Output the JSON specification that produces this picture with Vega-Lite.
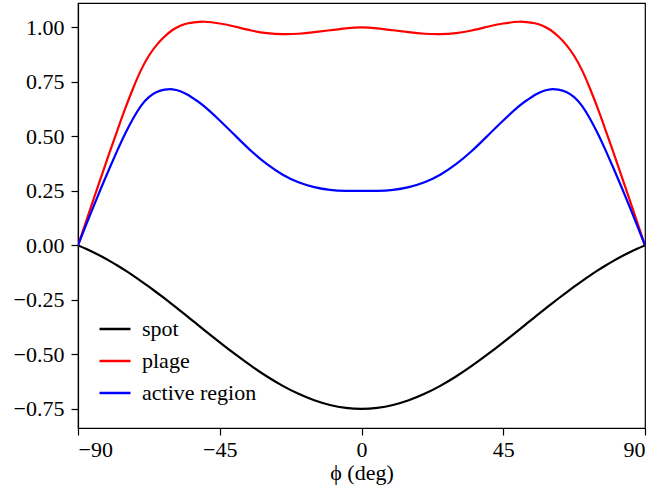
{
  "$schema": "https://vega.github.io/schema/vega-lite/v6.json",
  "width": 567,
  "height": 425,
  "autosize": {"type": "none"},
  "padding": {"left": 78, "top": 3, "right": 13, "bottom": 71},
  "background": "white",
  "config": {
    "view": {"stroke": "black", "strokeWidth": 1.2},
    "font": "Liberation Serif",
    "axis": {
      "grid": false,
      "domainColor": "black",
      "domainWidth": 1.2,
      "tickColor": "black",
      "tickWidth": 1.2,
      "tickSize": 7,
      "labelFont": "Liberation Serif",
      "labelFontSize": 22,
      "labelColor": "black",
      "labelPadding": 4,
      "titleFont": "Liberation Serif",
      "titleFontSize": 22,
      "titleFontWeight": "normal",
      "titleColor": "black"
    }
  },
  "data": {
    "values": [
      {"phi": -90, "value": 0, "series": "spot"},
      {"phi": -87.5, "value": -0.0155, "series": "spot"},
      {"phi": -85, "value": -0.0326, "series": "spot"},
      {"phi": -82.5, "value": -0.0511, "series": "spot"},
      {"phi": -80, "value": -0.071, "series": "spot"},
      {"phi": -77.5, "value": -0.0924, "series": "spot"},
      {"phi": -75, "value": -0.115, "series": "spot"},
      {"phi": -72.5, "value": -0.1388, "series": "spot"},
      {"phi": -70, "value": -0.1637, "series": "spot"},
      {"phi": -67.5, "value": -0.1896, "series": "spot"},
      {"phi": -65, "value": -0.2163, "series": "spot"},
      {"phi": -62.5, "value": -0.2438, "series": "spot"},
      {"phi": -60, "value": -0.2719, "series": "spot"},
      {"phi": -57.5, "value": -0.3004, "series": "spot"},
      {"phi": -55, "value": -0.3293, "series": "spot"},
      {"phi": -52.5, "value": -0.3583, "series": "spot"},
      {"phi": -50, "value": -0.3874, "series": "spot"},
      {"phi": -45, "value": -0.4449, "series": "spot"},
      {"phi": -40, "value": -0.5006, "series": "spot"},
      {"phi": -35, "value": -0.5533, "series": "spot"},
      {"phi": -30, "value": -0.6017, "series": "spot"},
      {"phi": -25, "value": -0.6447, "series": "spot"},
      {"phi": -20, "value": -0.6814, "series": "spot"},
      {"phi": -15, "value": -0.7108, "series": "spot"},
      {"phi": -10, "value": -0.7324, "series": "spot"},
      {"phi": -5, "value": -0.7456, "series": "spot"},
      {"phi": 0, "value": -0.75, "series": "spot"},
      {"phi": 5, "value": -0.7456, "series": "spot"},
      {"phi": 10, "value": -0.7324, "series": "spot"},
      {"phi": 15, "value": -0.7108, "series": "spot"},
      {"phi": 20, "value": -0.6814, "series": "spot"},
      {"phi": 25, "value": -0.6447, "series": "spot"},
      {"phi": 30, "value": -0.6017, "series": "spot"},
      {"phi": 35, "value": -0.5533, "series": "spot"},
      {"phi": 40, "value": -0.5006, "series": "spot"},
      {"phi": 45, "value": -0.4449, "series": "spot"},
      {"phi": 50, "value": -0.3874, "series": "spot"},
      {"phi": 52.5, "value": -0.3583, "series": "spot"},
      {"phi": 55, "value": -0.3293, "series": "spot"},
      {"phi": 57.5, "value": -0.3004, "series": "spot"},
      {"phi": 60, "value": -0.2719, "series": "spot"},
      {"phi": 62.5, "value": -0.2438, "series": "spot"},
      {"phi": 65, "value": -0.2163, "series": "spot"},
      {"phi": 67.5, "value": -0.1896, "series": "spot"},
      {"phi": 70, "value": -0.1637, "series": "spot"},
      {"phi": 72.5, "value": -0.1388, "series": "spot"},
      {"phi": 75, "value": -0.115, "series": "spot"},
      {"phi": 77.5, "value": -0.0924, "series": "spot"},
      {"phi": 80, "value": -0.071, "series": "spot"},
      {"phi": 82.5, "value": -0.0511, "series": "spot"},
      {"phi": 85, "value": -0.0326, "series": "spot"},
      {"phi": 87.5, "value": -0.0155, "series": "spot"},
      {"phi": 90, "value": 0, "series": "spot"},

      {"phi": -90, "value": 0, "series": "plage"},
      {"phi": -87.5, "value": 0.107, "series": "plage"},
      {"phi": -85, "value": 0.214, "series": "plage"},
      {"phi": -82.5, "value": 0.32, "series": "plage"},
      {"phi": -80, "value": 0.425, "series": "plage"},
      {"phi": -77.5, "value": 0.528, "series": "plage"},
      {"phi": -75, "value": 0.628, "series": "plage"},
      {"phi": -72.5, "value": 0.721, "series": "plage"},
      {"phi": -70, "value": 0.804, "series": "plage"},
      {"phi": -67.5, "value": 0.87, "series": "plage"},
      {"phi": -65, "value": 0.92, "series": "plage"},
      {"phi": -62.5, "value": 0.958, "series": "plage"},
      {"phi": -60, "value": 0.988, "series": "plage"},
      {"phi": -57.5, "value": 1.008, "series": "plage"},
      {"phi": -55, "value": 1.019, "series": "plage"},
      {"phi": -52.5, "value": 1.024, "series": "plage"},
      {"phi": -50, "value": 1.026, "series": "plage"},
      {"phi": -45, "value": 1.018, "series": "plage"},
      {"phi": -40, "value": 1.003, "series": "plage"},
      {"phi": -35, "value": 0.986, "series": "plage"},
      {"phi": -30, "value": 0.974, "series": "plage"},
      {"phi": -25, "value": 0.969, "series": "plage"},
      {"phi": -20, "value": 0.971, "series": "plage"},
      {"phi": -15, "value": 0.978, "series": "plage"},
      {"phi": -10, "value": 0.987, "series": "plage"},
      {"phi": -5, "value": 0.9958, "series": "plage"},
      {"phi": 0, "value": 1.0, "series": "plage"},
      {"phi": 5, "value": 0.9958, "series": "plage"},
      {"phi": 10, "value": 0.987, "series": "plage"},
      {"phi": 15, "value": 0.978, "series": "plage"},
      {"phi": 20, "value": 0.971, "series": "plage"},
      {"phi": 25, "value": 0.969, "series": "plage"},
      {"phi": 30, "value": 0.974, "series": "plage"},
      {"phi": 35, "value": 0.986, "series": "plage"},
      {"phi": 40, "value": 1.003, "series": "plage"},
      {"phi": 45, "value": 1.018, "series": "plage"},
      {"phi": 50, "value": 1.026, "series": "plage"},
      {"phi": 52.5, "value": 1.024, "series": "plage"},
      {"phi": 55, "value": 1.019, "series": "plage"},
      {"phi": 57.5, "value": 1.008, "series": "plage"},
      {"phi": 60, "value": 0.988, "series": "plage"},
      {"phi": 62.5, "value": 0.958, "series": "plage"},
      {"phi": 65, "value": 0.92, "series": "plage"},
      {"phi": 67.5, "value": 0.87, "series": "plage"},
      {"phi": 70, "value": 0.804, "series": "plage"},
      {"phi": 72.5, "value": 0.721, "series": "plage"},
      {"phi": 75, "value": 0.628, "series": "plage"},
      {"phi": 77.5, "value": 0.528, "series": "plage"},
      {"phi": 80, "value": 0.425, "series": "plage"},
      {"phi": 82.5, "value": 0.32, "series": "plage"},
      {"phi": 85, "value": 0.214, "series": "plage"},
      {"phi": 87.5, "value": 0.107, "series": "plage"},
      {"phi": 90, "value": 0, "series": "plage"},

      {"phi": -90, "value": 0, "series": "active region"},
      {"phi": -87.5, "value": 0.0915, "series": "active region"},
      {"phi": -85, "value": 0.1814, "series": "active region"},
      {"phi": -82.5, "value": 0.2689, "series": "active region"},
      {"phi": -80, "value": 0.354, "series": "active region"},
      {"phi": -77.5, "value": 0.4356, "series": "active region"},
      {"phi": -75, "value": 0.513, "series": "active region"},
      {"phi": -72.5, "value": 0.5822, "series": "active region"},
      {"phi": -70, "value": 0.6403, "series": "active region"},
      {"phi": -67.5, "value": 0.6804, "series": "active region"},
      {"phi": -65, "value": 0.7037, "series": "active region"},
      {"phi": -62.5, "value": 0.7142, "series": "active region"},
      {"phi": -60, "value": 0.7161, "series": "active region"},
      {"phi": -57.5, "value": 0.7075, "series": "active region"},
      {"phi": -55, "value": 0.6897, "series": "active region"},
      {"phi": -52.5, "value": 0.6657, "series": "active region"},
      {"phi": -50, "value": 0.6386, "series": "active region"},
      {"phi": -45, "value": 0.5731, "series": "active region"},
      {"phi": -40, "value": 0.5024, "series": "active region"},
      {"phi": -35, "value": 0.4327, "series": "active region"},
      {"phi": -30, "value": 0.3723, "series": "active region"},
      {"phi": -25, "value": 0.3243, "series": "active region"},
      {"phi": -20, "value": 0.2896, "series": "active region"},
      {"phi": -15, "value": 0.2672, "series": "active region"},
      {"phi": -10, "value": 0.2546, "series": "active region"},
      {"phi": -5, "value": 0.2502, "series": "active region"},
      {"phi": 0, "value": 0.25, "series": "active region"},
      {"phi": 5, "value": 0.2502, "series": "active region"},
      {"phi": 10, "value": 0.2546, "series": "active region"},
      {"phi": 15, "value": 0.2672, "series": "active region"},
      {"phi": 20, "value": 0.2896, "series": "active region"},
      {"phi": 25, "value": 0.3243, "series": "active region"},
      {"phi": 30, "value": 0.3723, "series": "active region"},
      {"phi": 35, "value": 0.4327, "series": "active region"},
      {"phi": 40, "value": 0.5024, "series": "active region"},
      {"phi": 45, "value": 0.5731, "series": "active region"},
      {"phi": 50, "value": 0.6386, "series": "active region"},
      {"phi": 52.5, "value": 0.6657, "series": "active region"},
      {"phi": 55, "value": 0.6897, "series": "active region"},
      {"phi": 57.5, "value": 0.7075, "series": "active region"},
      {"phi": 60, "value": 0.7161, "series": "active region"},
      {"phi": 62.5, "value": 0.7142, "series": "active region"},
      {"phi": 65, "value": 0.7037, "series": "active region"},
      {"phi": 67.5, "value": 0.6804, "series": "active region"},
      {"phi": 70, "value": 0.6403, "series": "active region"},
      {"phi": 72.5, "value": 0.5822, "series": "active region"},
      {"phi": 75, "value": 0.513, "series": "active region"},
      {"phi": 77.5, "value": 0.4356, "series": "active region"},
      {"phi": 80, "value": 0.354, "series": "active region"},
      {"phi": 82.5, "value": 0.2689, "series": "active region"},
      {"phi": 85, "value": 0.1814, "series": "active region"},
      {"phi": 87.5, "value": 0.0915, "series": "active region"},
      {"phi": 90, "value": 0, "series": "active region"}
    ]
  },
  "mark": {"type": "line", "interpolate": "natural", "strokeWidth": 2.2, "clip": true},
  "encoding": {
    "x": {
      "field": "phi",
      "type": "quantitative",
      "scale": {"domain": [-90, 90], "nice": false, "zero": false},
      "axis": {"values": [-90, -45, 0, 45, 90], "title": "ϕ (deg)", "titlePadding": 2}
    },
    "y": {
      "field": "value",
      "type": "quantitative",
      "scale": {"domain": [-0.838, 1.112], "nice": false, "zero": false},
      "axis": {"values": [-0.75, -0.5, -0.25, 0, 0.25, 0.5, 0.75, 1.0], "format": ".2f", "title": null, "labelPadding": 7}
    },
    "color": {
      "field": "series",
      "type": "nominal",
      "scale": {"domain": ["spot", "plage", "active region"], "range": ["#000000", "#ff0000", "#0000ff"]},
      "legend": {
        "title": null,
        "orient": "none",
        "legendX": 20,
        "legendY": 309,
        "padding": 0,
        "symbolType": "stroke",
        "symbolSize": 961,
        "symbolStrokeWidth": 2.5,
        "labelFont": "Liberation Serif",
        "labelFontSize": 22,
        "labelColor": "black",
        "labelOffset": 10,
        "rowPadding": 4
      }
    }
  }
}
